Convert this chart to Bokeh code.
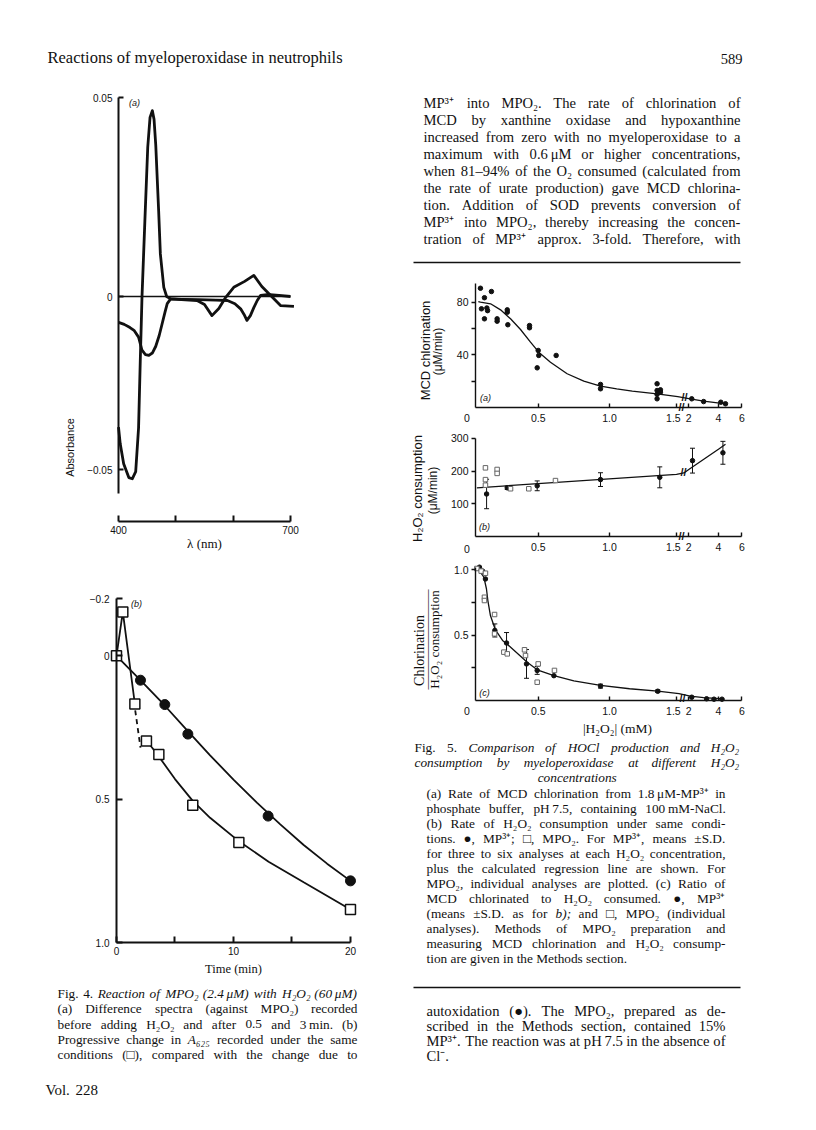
import numpy as np
from bokeh.plotting import figure
from bokeh.models import (Range1d, FixedTicker, Whisker, ColumnDataSource, TeeHead, AllLabels)
from bokeh.layouts import row, column
from bokeh.core.properties import value
from bokeh.embed import file_html
from bokeh.resources import INLINE

INK = "#111111"
SERIF = "Liberation Serif"
SANS = "Liberation Sans"

# ===================== DATA =====================
# Fig. 4(a) difference spectra (wavelength nm, absorbance)
spec1_nm = [400, 403, 409, 418, 424, 430, 435, 438, 441, 446, 451, 455, 459, 462, 465, 470,
            473, 479, 484, 491, 510, 537, 550, 563, 575, 587, 601, 620, 636, 650, 665, 683, 706]
spec1_abs = [-0.0328, -0.037, -0.042, -0.0455, -0.0458, -0.044, -0.033, -0.016, 0.0, 0.019,
             0.0375, 0.045, 0.0467, 0.0445, 0.038, 0.0216, 0.0107, 0.0023, 0.0, -0.0006,
             -0.0008, -0.001, -0.002, -0.0048, -0.003, -0.0002, 0.0023, 0.0038, 0.0053,
             0.0025, 0.0003, -0.0023, -0.0025]
spec2_nm = [400, 410, 420, 427, 435, 441, 447, 453, 459, 465, 471, 476, 481, 485, 491, 510,
            540, 570, 590, 603, 613, 619, 624, 630, 636, 642, 648, 659, 680, 700]
spec2_abs = [-0.0065, -0.007, -0.0078, -0.0085, -0.0102, -0.0135, -0.0146, -0.0148, -0.0142,
             -0.0125, -0.0098, -0.0069, -0.004, -0.0018, -0.0006, -0.0007, -0.0008, -0.0009,
             -0.001, -0.0018, -0.0031, -0.0045, -0.006, -0.0048, -0.0028, -0.001, 0.0003,
             0.0005, 0.0003, 0.0]
zero_nm = [400, 700]
zero_abs = [0.0, 0.0]
f4a_xticks = [400, 500, 600, 700]
f4a_xlabels = ["400", "", "", "700"]
f4a_yticks = [0.05, 0.0, -0.0435]
f4a_ylabels = ["0.05", "0", "\u22120.05"]

# Fig. 4(b) A625 change vs time (min)
mpo2_t = [0, 0.54, 1.57, 2.56, 3.62, 6.52, 10.46, 20]
mpo2_A = [0, -0.153, 0.168, 0.297, 0.344, 0.521, 0.651, 0.885]
auto_t = [2.05, 4.13, 6.1, 12.96, 20]
auto_A = [0.085, 0.170, 0.273, 0.559, 0.785]
auto_fit_t = [0, 2, 4, 6, 8, 10, 12, 14, 16, 18, 20]
auto_fit_A = [0, 0.083, 0.168, 0.258, 0.347, 0.432, 0.512, 0.588, 0.66, 0.725, 0.785]
spike_t = [0, 0.54, 1.57]
spike_A = [0, -0.153, 0.168]
dash_t = [1.6, 2.05]
dash_A = [0.19, 0.32]
mpo2_fit_t = [2.3, 3, 3.6, 5, 6.5, 8, 10.5, 13, 16, 20]
mpo2_fit_A = [0.285, 0.318, 0.35, 0.43, 0.505, 0.565, 0.648, 0.718, 0.79, 0.885]
f4b_xticks = [0, 5, 10, 15, 20]
f4b_xlabels = ["0", "", "10", "", "20"]
f4b_yticks = [-0.2, 0.0, 0.5, 1.0]
f4b_ylabels = ["\u22120.2", "0", "0.5", "1.0"]

# Fig. 5 broken x axis ([H2O2], mM)
brk_mM = [0.0, 1.0, 1.5, 2.0, 4.0, 6.0]
brk_pos = [0.0, 1.0, 1.47, 1.556, 1.764, 1.929]
f5_xticks = [0.5, 1.0, 1.5, 2, 4, 6]
f5_xlabels = ["0.5", "1.0", "1.5\u2009\u2009\u2009", "2", "4", "6"]

# Fig. 5(a) MCD chlorination (uM/min)
a_mM = [0.095, 0.102, 0.123, 0.123, 0.14, 0.145, 0.172, 0.212, 0.212, 0.283, 0.283, 0.287,
        0.439, 0.439, 0.493, 0.50, 0.504, 0.626, 0.937, 0.937, 1.355, 1.355, 1.355, 1.355,
        1.38, 1.38, 2.2, 3.0, 4.2, 4.6]
a_rate = [90.5, 74.9, 83.3, 67.3, 75.5, 73.5, 88.0, 67.3, 65.5, 74.1, 72.3, 62.8, 62.2, 60.5,
          30.1, 43.3, 39.5, 39.5, 17.5, 14.2, 18.0, 12.9, 10.0, 6.6, 13.4, 11.6, 6.6, 4.5,
          4.0, 2.8]
a_fit_mM = [0.08, 0.095, 0.166, 0.236, 0.306, 0.376, 0.446, 0.504, 0.586, 0.703, 0.82, 0.937,
            1.054, 1.17, 1.355, 1.55, 2.0, 3.0, 4.6]
a_fit = [80.4, 80, 78.7, 74.1, 67.3, 59.2, 49.6, 42, 34.4, 25.6, 20, 16.2, 14.2, 12.4, 10.4,
         8.2, 6.8, 4.8, 2.8]
f5a_yticks = [20, 40, 60, 80]
f5a_ylabels = ["", "40", "", "80"]

# Fig. 5(b) H2O2 consumption (uM/min)
b_fit_mM = [0.07, 1.5, 1.8, 2.0, 4.0, 4.6]
b_fit = [149, 190, 194.5, 205, 267, 282]
b_mM = [0.138, 0.283, 0.493, 0.937, 1.375, 2.25, 4.38]
b_mean = [130, 149, 155, 174, 181, 232, 256]
b_sd = [45, 5, 15, 21, 32, 38, 35]
b_sq_mM = [0.13, 0.13, 0.13, 0.212, 0.212, 0.306, 0.434, 0.621]
b_sq = [210, 174, 157, 205, 193, 146, 146, 171]
f5b_yticks = [100, 200, 300]
f5b_ylabels = ["100", "200", "300"]

# Fig. 5(c) chlorination / H2O2 consumption
c_fit_mM = [0.065, 0.09, 0.119, 0.137, 0.147, 0.165, 0.2, 0.25, 0.283, 0.33, 0.423, 0.493,
            0.61, 0.75, 0.937, 1.15, 1.36, 1.6, 2.1, 3.0, 4.5]
c_fit = [1.02, 0.99, 0.943, 0.855, 0.765, 0.65, 0.54, 0.46, 0.43, 0.384, 0.293, 0.235, 0.191,
         0.15, 0.115, 0.09, 0.071, 0.052, 0.033, 0.022, 0.013]
c_mM = [0.088, 0.11, 0.13, 0.196, 0.278, 0.418, 0.493, 0.61, 0.937, 1.36, 2.2, 3.2, 3.7, 4.3]
c_mean = [1.02, 0.99, 0.93, 0.536, 0.44, 0.28, 0.23, 0.19, 0.11, 0.071, 0.025, 0.013, 0.01, 0.01]
c_sd = [0, 0, 0, 0.05, 0.08, 0.11, 0.03, 0, 0.015, 0.01, 0, 0, 0, 0]
c_sq_mM = [0.07, 0.1, 0.13, 0.123, 0.123, 0.194, 0.194, 0.259, 0.283, 0.404, 0.411, 0.5,
           0.493, 0.614]
c_sq = [1.01, 0.99, 0.974, 0.79, 0.765, 0.658, 0.51, 0.37, 0.357, 0.388, 0.344, 0.28, 0.14,
        0.23]
f5c_yticks = [0.25, 0.5, 0.75, 1.0]
f5c_ylabels = ["", "0.5", "", "1.0"]

# ===================== TEXT =====================
header = "Reactions of myeloperoxidase in neutrophils"
page_no = "589"
body_top = [
    "MP³⁺ into MPO₂. The rate of chlorination of",
    "MCD by xanthine oxidase and hypoxanthine",
    "increased from zero with no myeloperoxidase to a",
    "maximum with 0.6\u2009μM or higher concentrations,",
    "when 81–94% of the O₂ consumed (calculated from",
    "the rate of urate production) gave MCD chlorina-",
    "tion. Addition of SOD prevents conversion of",
    "MP³⁺ into MPO₂, thereby increasing the concen-",
    "tration of MP³⁺ approx. 3-fold. Therefore, with",
]
cap4 = [
    "Fig. 4. ~Reaction ~of ~MPO₂ ~(2.4\u2009μM) ~with ~H₂O₂ ~(60\u2009μM)",
    "(a) Difference spectra (against MPO₂) recorded",
    "before adding H₂O₂ and after 0.5 and 3\u2009min. (b)",
    "Progressive change in ~A₆₂₅ recorded under the same",
    "conditions (□), compared with the change due to",
]
vol = "Vol. 228"
cap5_title = [
    "Fig. 5. ~Comparison ~of ~HOCl ~production ~and ~H₂O₂",
    "~consumption ~by ~myeloperoxidase ~at ~different ~H₂O₂",
]
cap5_title_last = "concentrations"
cap5 = [
    "(a) Rate of MCD chlorination from 1.8\u2009μM-MP³⁺ in",
    "phosphate buffer, pH\u20097.5, containing 100\u2009mM-NaCl.",
    "(b) Rate of H₂O₂ consumption under same condi-",
    "tions. ●, MP³⁺; □, MPO₂. For MP³⁺, means ±S.D.",
    "for three to six analyses at each H₂O₂ concentration,",
    "plus the calculated regression line are shown. For",
    "MPO₂, individual analyses are plotted. (c) Ratio of",
    "MCD chlorinated to H₂O₂ consumed. ●, MP³⁺",
    "(means ±S.D. as for ~b); and □, MPO₂ (individual",
    "analyses). Methods of MPO₂ preparation and",
    "measuring MCD chlorination and H₂O₂ consump-",
    "tion are given in the Methods section.",
]
body_bottom = [
    "autoxidation (●). The MPO₂, prepared as de-",
    "scribed in the Methods section, contained 15%",
    "MP³⁺. The reaction was at pH\u20097.5 in the absence of",
    "Cl⁻.",
]

# ===================== HELPERS =====================
TW = {}
for ch, w in zip("abcdefghijklmnopqrstuvwxyz",
                 [444, 500, 444, 500, 444, 333, 500, 500, 278, 278, 500, 278, 778, 500, 500, 500,
                  500, 333, 389, 278, 500, 500, 722, 500, 500, 444]):
    TW[ch] = w
for ch, w in zip("ABCDEFGHIJKLMNOPQRSTUVWXYZ",
                 [722, 667, 667, 722, 611, 556, 722, 722, 333, 389, 722, 611, 889, 722, 722, 556,
                  722, 667, 556, 611, 722, 722, 944, 722, 722, 611]):
    TW[ch] = w
for ch in "0123456789":
    TW[ch] = 500
TW.update({" ": 250, ".": 250, ",": 250, ";": 278, ":": 278, "(": 333, ")": 333, "-": 333,
           "–": 500, "%": 833, "±": 564, "³": 320, "⁺": 380, "⁻": 380, "₂": 320, "₅": 320,
           "₆": 320, "μ": 520, "●": 620, "□": 620, "\u2009": 170, "/": 278, "|": 200})


def tw(s, size):
    return sum(TW.get(c, 500) for c in s) * size / 1000.0


def words_layout(lines, x0, x1, ys, size, ragged_last=True):
    d = {"normal": {"x": [], "y": [], "text": []}, "italic": {"x": [], "y": [], "text": []}}
    n = len(lines)
    for k, (line, y) in enumerate(zip(lines, ys)):
        toks = line.split(" ")
        styles = ["italic" if t.startswith("~") else "normal" for t in toks]
        toks = [t[1:] if t.startswith("~") else t for t in toks]
        widths = [tw(t, size) for t in toks]
        if len(toks) == 1 or (ragged_last and k == n - 1):
            gap = 0.25 * size
        else:
            gap = max((x1 - x0 - sum(widths)) / (len(toks) - 1), 0.18 * size)
        x = x0
        for t, s, w in zip(toks, styles, widths):
            d[s]["x"].append(x)
            d[s]["y"].append(y)
            d[s]["text"].append(t)
            x += w + gap
    return d


def draw_words(p, d, size, font=SERIF):
    for style, src in d.items():
        if src["x"]:
            p.text(x="x", y="y", text="text", source=ColumnDataSource(src),
                   text_font=value(font), text_font_size=value(f"{size}px"),
                   text_font_style=style, text_baseline="middle", text_align="left",
                   text_color=INK)


def text_fig(x0, y0, x1, y1):
    p = figure(width=x1 - x0, height=y1 - y0, x_range=Range1d(x0, x1), y_range=Range1d(y1, y0),
               x_axis_type=None, y_axis_type=None, output_backend="svg",
               toolbar_location=None, min_border=0)
    p.grid.visible = False
    p.outline_line_color = None
    return p


class Frame:
    """maps page pixels to data values for one panel (l/r/t/b are the axis lines)"""
    def __init__(s, left, right, top, bottom, xr, yr):
        s.l, s.r, s.t, s.b, s.xr, s.yr = left, right, top, bottom, xr, yr

    def d(s, px, py):
        x = s.xr[0] + (px - s.l) / (s.r - s.l) * (s.xr[1] - s.xr[0])
        y = s.yr[0] + (s.b - py) / (s.b - s.t) * (s.yr[1] - s.yr[0])
        return x, y


def chart(box, fr):
    x0, y0, x1, y1 = box
    xa, yb = fr.d(x0, y1)
    xb, ya = fr.d(x1, y0)
    p = figure(width=x1 - x0, height=y1 - y0, x_range=Range1d(xa, xb), y_range=Range1d(yb, ya),
               output_backend="svg", toolbar_location=None, min_border=0)
    p.grid.visible = False
    p.outline_line_color = None
    p.xaxis[0].fixed_location = fr.yr[0]
    p.yaxis[0].fixed_location = fr.xr[0]
    return p


def style_axis(a, ticks, labels, t_in, t_out, lw, fsize, standoff, bounds):
    a.ticker = FixedTicker(ticks=ticks, minor_ticks=[])
    a.major_label_overrides = {float(t): l for t, l in zip(ticks, labels)}
    a.major_tick_in = t_in
    a.major_tick_out = t_out
    a.minor_tick_in = 0
    a.minor_tick_out = 0
    a.axis_line_width = lw
    a.major_tick_line_width = lw
    a.axis_line_color = INK
    a.major_tick_line_color = INK
    a.major_label_text_font = SANS
    a.major_label_text_font_size = fsize
    a.major_label_text_color = INK
    a.major_label_standoff = standoff
    a.major_label_policy = AllLabels()
    a.bounds = bounds


def txt(p, fr, px, py, text, font=SANS, size=11, style="normal", angle=0.0, align="center"):
    x, y = fr.d(px, py)
    p.text(x=[x], y=[y], text=[text], text_font=value(font), text_font_size=value(f"{size}px"),
           text_font_style=style, angle=angle, text_align=align, text_baseline="middle",
           text_color=INK)


def ax(v):
    return [float(t) for t in np.interp(v, brk_mM, brk_pos)]


BODY = 14.6
CAP = 13.3

# ===================== LEFT COLUMN (page x 0..400) =====================
LH = text_fig(0, 0, 400, 85)
draw_words(LH, words_layout([header], 47, 342, [57], 16.5), 16.5)

# Fig 4a
fr4a = Frame(118, 300, 97, 521, (400, 717.44), (-0.05653, 0.05))
p4a = chart((0, 85, 400, 560), fr4a)
p4a.line(zero_nm, zero_abs, line_color=INK, line_width=1.6)
p4a.line(spec2_nm, spec2_abs, line_color=INK, line_width=2.8, line_join="round")
p4a.line(spec1_nm, spec1_abs, line_color=INK, line_width=2.8, line_join="round")
style_axis(p4a.xaxis[0], f4a_xticks, f4a_xlabels, 6, 0, 2, "10px", 4, (400, 700))
style_axis(p4a.yaxis[0], f4a_yticks, f4a_ylabels, 5, 0, 2, "10px", 6, (-0.0495, 0.05))
txt(p4a, fr4a, 134, 102, "(a)", size=9, style="italic")
txt(p4a, fr4a, 69, 447, "Absorbance", size=11, angle=np.pi / 2)
txt(p4a, fr4a, 204, 543, "λ (nm)", font=SERIF, size=13)

# Fig 4b
fr4b = Frame(116, 355, 598, 942, (0, 20.43), (1.0, -0.2))
p4b = chart((0, 560, 400, 984), fr4b)
p4b.line(auto_fit_t, auto_fit_A, line_color=INK, line_width=1.8)
p4b.line(spike_t, spike_A, line_color=INK, line_width=1.8)
p4b.line(dash_t, dash_A, line_color=INK, line_width=1.8, line_dash="5 4")
p4b.line(mpo2_fit_t, mpo2_fit_A, line_color=INK, line_width=1.8)
p4b.scatter(auto_t, auto_A, marker="circle", size=10, fill_color=INK, line_color=INK)
p4b.scatter(mpo2_t, mpo2_A, marker="square", size=10, fill_color="white", line_color=INK,
            line_width=1.5)
style_axis(p4b.xaxis[0], f4b_xticks, f4b_xlabels, 6, 0, 2, "10px", 4, (0, 20))
style_axis(p4b.yaxis[0], f4b_yticks, f4b_ylabels, 6, 0, 2, "10px", 7, (-0.2, 1.0))
txt(p4b, fr4b, 136, 603, "(b)", size=9, style="italic")
txt(p4b, fr4b, 233, 968, "Time (min)", font=SERIF, size=12.5)

# Caption Fig 4
LC = text_fig(0, 984, 400, 1120)
draw_words(LC, words_layout(cap4, 57, 357, [993, 1008, 1023.5, 1039, 1054], CAP,
                            ragged_last=False), CAP)
draw_words(LC, words_layout([vol], 45, 200, [1089], 15), 15)

# ===================== RIGHT COLUMN (page x 400..808) =====================
RT = text_fig(400, 0, 808, 270)
RT.text(x=[742], y=[58], text=[page_no], text_font=value(SERIF), text_font_size=value("14.5px"),
        text_align="right", text_baseline="middle", text_color=INK)
draw_words(RT, words_layout(body_top, 423, 740, [102 + 17 * i for i in range(9)], BODY,
                            ragged_last=False), BODY)
RT.segment(x0=[413], y0=[262], x1=[740], y1=[262], line_color=INK, line_width=1.6)

XR5 = (0.0603, 1.9327)
tick_u = ax(f5_xticks)
XB5 = (XR5[0], tick_u[-1])

# Fig 5a
fr5a = Frame(475, 742, 283, 407, XR5, (0, 94.1))
p5a = chart((400, 270, 808, 428), fr5a)
p5a.line(ax(a_fit_mM), a_fit, line_color=INK, line_width=1.3)
p5a.scatter(ax(a_mM), a_rate, marker="circle", size=4.5, fill_color=INK, line_color=INK)
style_axis(p5a.xaxis[0], tick_u, f5_xlabels, 4, 0, 1.4, "10.5px", 4, XB5)
style_axis(p5a.yaxis[0], f5a_yticks, f5a_ylabels, 0, 4, 1.4, "10.5px", 3, (0, 94))
txt(p5a, fr5a, 466.4, 417, "0", size=10.5)
txt(p5a, fr5a, 485, 397, "(a)", size=9, style="italic")
txt(p5a, fr5a, 425, 350, "MCD chlorination", size=13, angle=np.pi / 2)
txt(p5a, fr5a, 437, 351, "(μM/min)", size=12, angle=np.pi / 2)
txt(p5a, fr5a, 681, 406, "//", size=11, style="bold")
txt(p5a, fr5a, 684, 396, "//", size=11, style="bold")

# Fig 5b
fr5b = Frame(475, 742, 437, 536, XR5, (0, 302.8))
p5b = chart((400, 428, 808, 556), fr5b)
p5b.line(ax(b_fit_mM), b_fit, line_color=INK, line_width=1.3)
mask_b = [s > 0 for s in b_sd]
src_b = ColumnDataSource(dict(
    x=ax([x for x, k in zip(b_mM, mask_b) if k]),
    lo=[m - s for m, s, k in zip(b_mean, b_sd, mask_b) if k],
    hi=[m + s for m, s, k in zip(b_mean, b_sd, mask_b) if k]))
p5b.add_layout(Whisker(base="x", lower="lo", upper="hi", source=src_b, dimension="height",
                       line_color=INK, line_width=1,
                       upper_head=TeeHead(size=5, line_color=INK, line_width=1),
                       lower_head=TeeHead(size=5, line_color=INK, line_width=1)))
p5b.scatter(ax(b_mM), b_mean, marker="circle", size=4.5, fill_color=INK, line_color=INK)
p5b.scatter(ax(b_sq_mM), b_sq, marker="square", size=4.5, fill_color="white",
            line_color="#666666", line_width=1)
style_axis(p5b.xaxis[0], tick_u, f5_xlabels, 4, 0, 1.4, "10.5px", 4, XB5)
style_axis(p5b.yaxis[0], f5b_yticks, f5b_ylabels, 0, 4, 1.4, "10.5px", 3, (0, 300))
txt(p5b, fr5b, 466.4, 548, "0", size=10.5)
txt(p5b, fr5b, 484, 526, "(b)", size=9, style="italic")
txt(p5b, fr5b, 417, 488, "H₂O₂ consumption", size=13, angle=np.pi / 2)
txt(p5b, fr5b, 432, 490, "(μM/min)", size=12, angle=np.pi / 2)
txt(p5b, fr5b, 681, 535, "//", size=11, style="bold")
txt(p5b, fr5b, 683, 471, "//", size=11, style="bold")

# Fig 5c
fr5c = Frame(475, 742, 565, 700, XR5, (0, 1.033))
p5c = chart((400, 556, 808, 737), fr5c)
p5c.line(ax(c_fit_mM), c_fit, line_color=INK, line_width=1.3)
mask_c = [s > 0 for s in c_sd]
src_c = ColumnDataSource(dict(
    x=ax([x for x, k in zip(c_mM, mask_c) if k]),
    lo=[m - s for m, s, k in zip(c_mean, c_sd, mask_c) if k],
    hi=[m + s for m, s, k in zip(c_mean, c_sd, mask_c) if k]))
p5c.add_layout(Whisker(base="x", lower="lo", upper="hi", source=src_c, dimension="height",
                       line_color=INK, line_width=1,
                       upper_head=TeeHead(size=5, line_color=INK, line_width=1),
                       lower_head=TeeHead(size=5, line_color=INK, line_width=1)))
p5c.scatter(ax(c_mM), c_mean, marker="circle", size=4.5, fill_color=INK, line_color=INK)
p5c.scatter(ax(c_sq_mM), c_sq, marker="square", size=4.5, fill_color="white",
            line_color="#666666", line_width=1)
style_axis(p5c.xaxis[0], tick_u, f5_xlabels, 4, 0, 1.4, "10.5px", 4, XB5)
style_axis(p5c.yaxis[0], f5c_yticks, f5c_ylabels, 0, 4, 1.4, "10.5px", 3, (0, 1.02))
txt(p5c, fr5c, 466.4, 710, "0", size=10.5)
txt(p5c, fr5c, 484, 692, "(c)", size=9, style="italic")
txt(p5c, fr5c, 418.5, 650, "Chlorination", font=SERIF, size=14, angle=np.pi / 2)
txt(p5c, fr5c, 426, 639, "\u2014" * 8, font=SERIF, size=12.5, angle=np.pi / 2)
txt(p5c, fr5c, 433.5, 639, "H₂O₂ consumption", font=SERIF, size=13, angle=np.pi / 2)
txt(p5c, fr5c, 682, 697, "//", size=11, style="bold")
txt(p5c, fr5c, 617, 728, "|H₂O₂| (mM)", font=SERIF, size=13.5)

# Caption Fig 5 + continuing text
RC = text_fig(400, 737, 808, 1120)
draw_words(RC, words_layout(cap5_title, 414, 738, [747, 762], CAP, ragged_last=False), CAP)
w_last = tw(cap5_title_last, CAP)
draw_words(RC, words_layout(["~" + cap5_title_last], 576 - w_last / 2, 576 + w_last / 2, [777],
                            CAP), CAP)
draw_words(RC, words_layout(cap5, 426, 725, [793 + 15 * i for i in range(12)], CAP), CAP)
RC.segment(x0=[413], y0=[987], x1=[740], y1=[987], line_color=INK, line_width=1.6)
draw_words(RC, words_layout(body_bottom, 426, 725, [1010, 1025, 1040, 1055], BODY), BODY)

left = column(LH, p4a, p4b, LC, spacing=0)
right = column(RT, p5a, p5b, p5c, RC, spacing=0)
page = row(left, right, spacing=0)

open("out.html", "w").write(file_html(page, INLINE))
